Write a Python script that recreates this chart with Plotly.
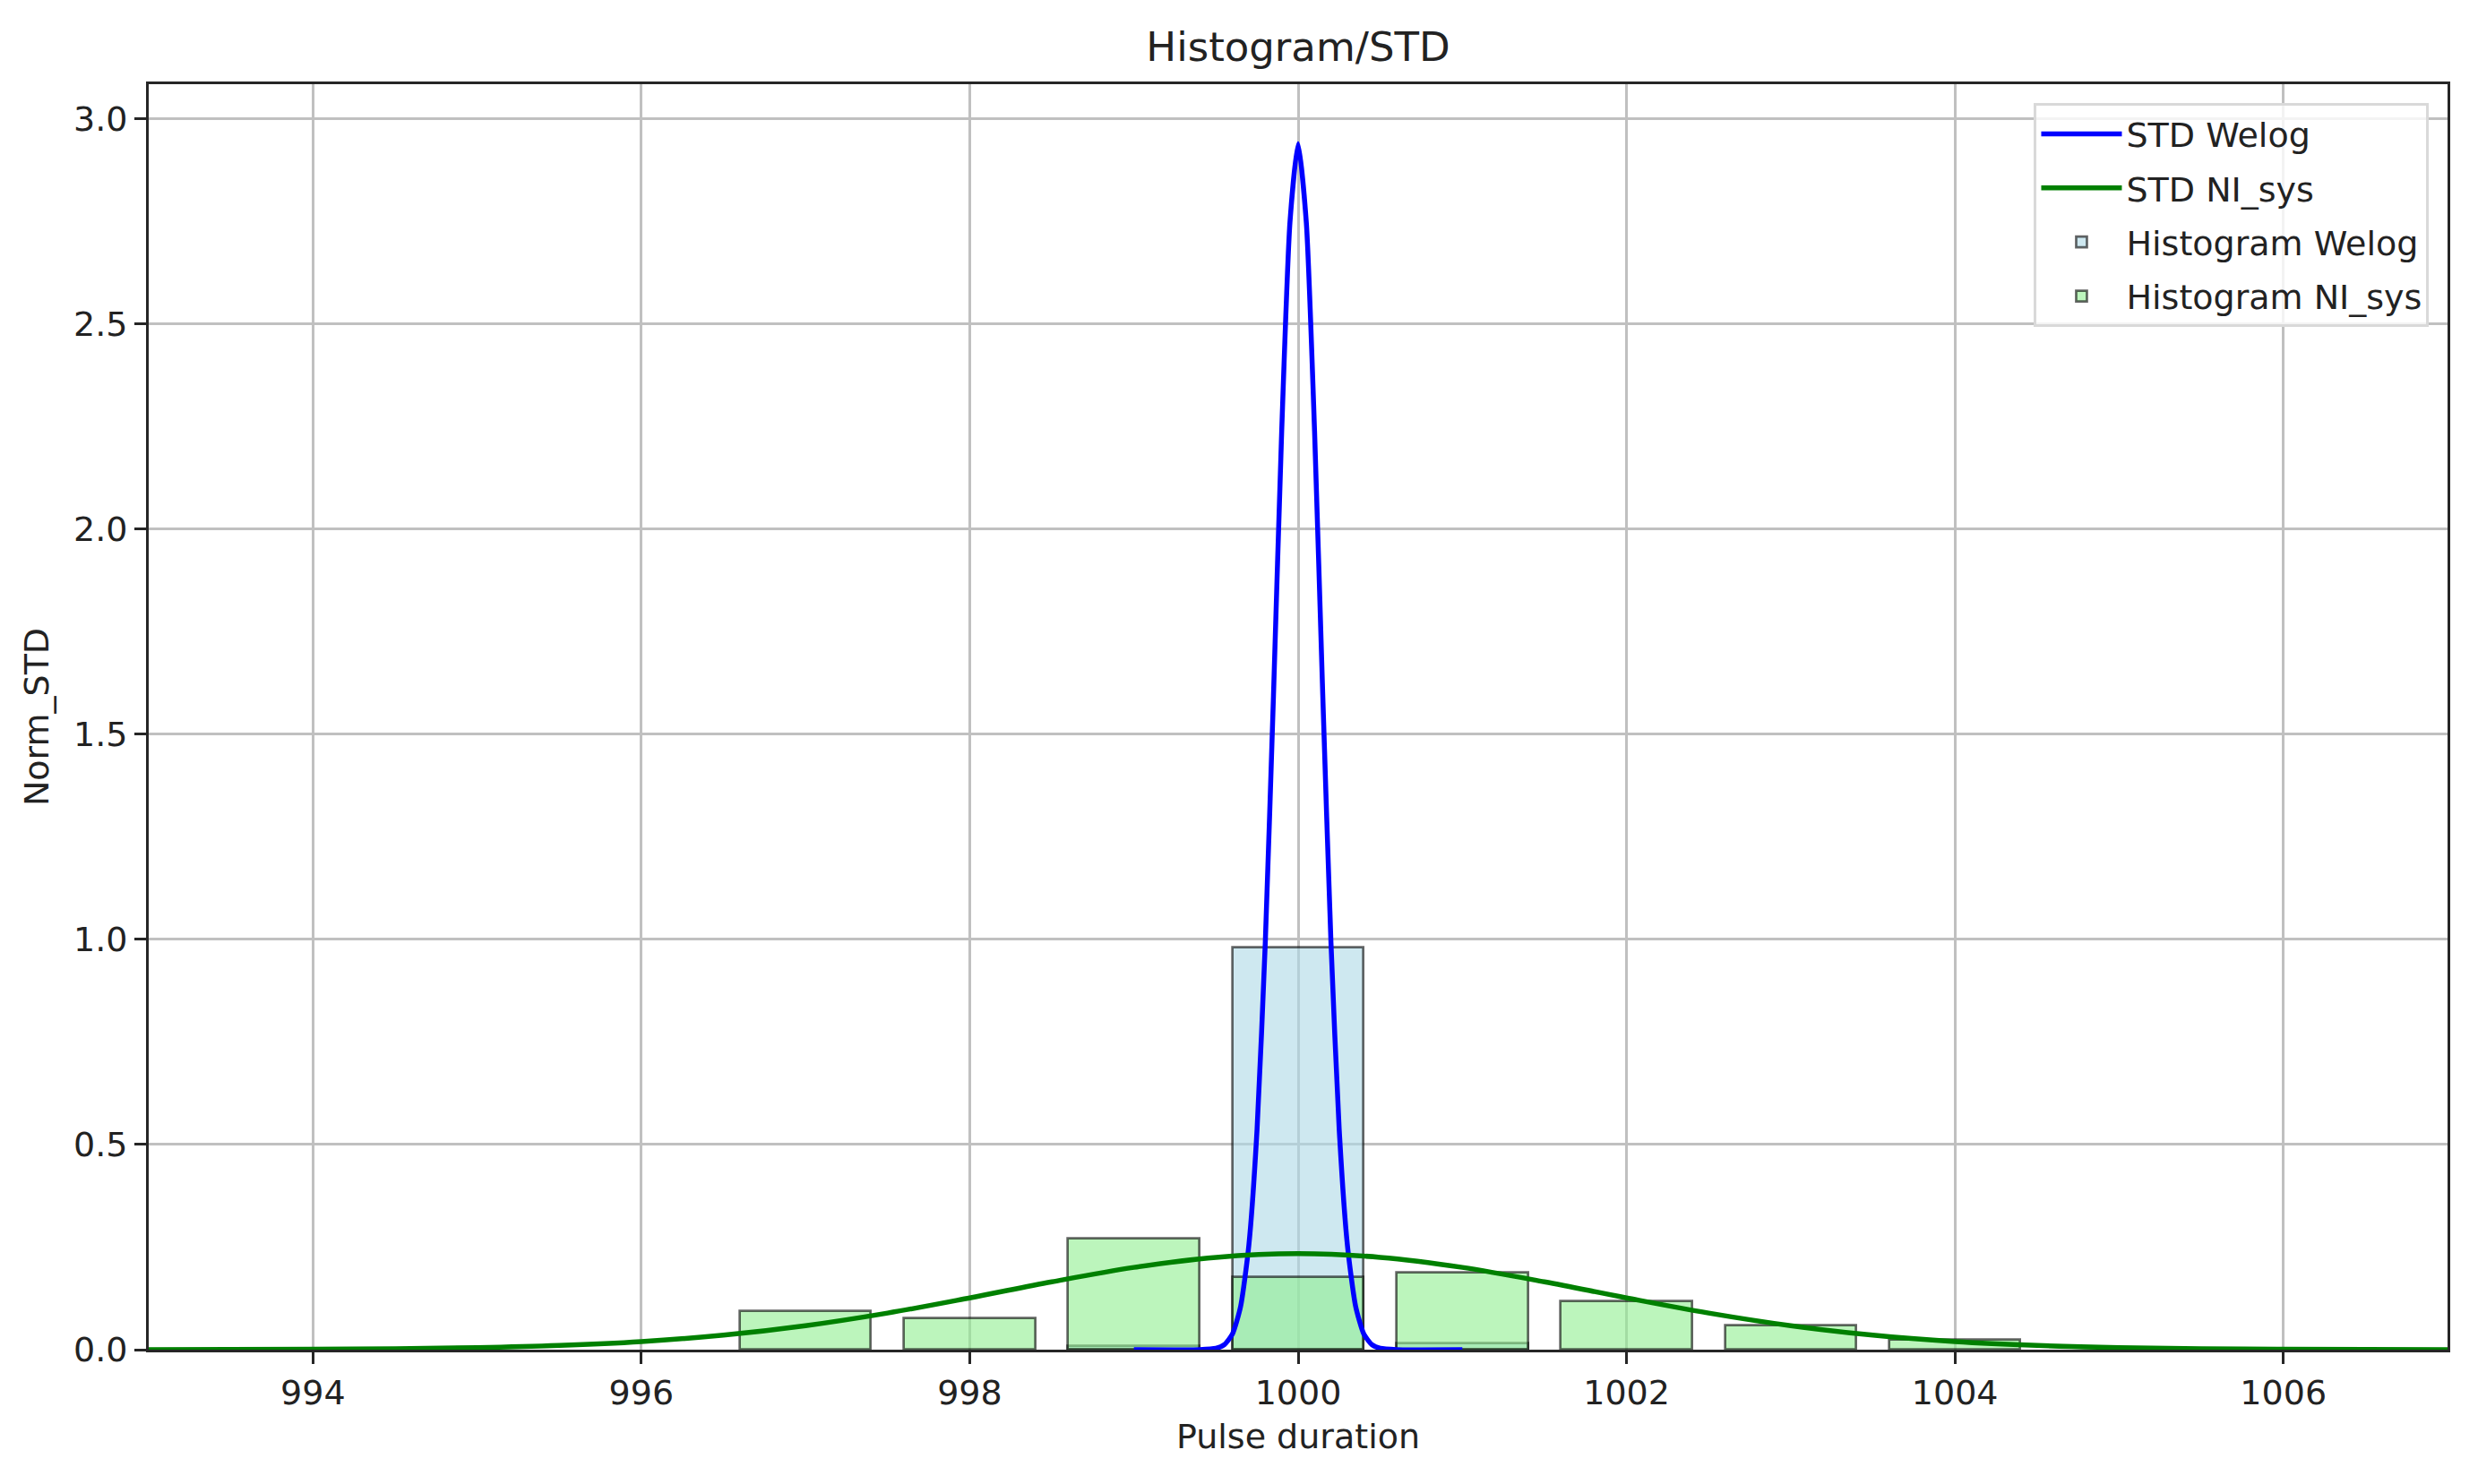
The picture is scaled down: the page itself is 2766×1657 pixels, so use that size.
import plotly.graph_objects as go

# histogram bins (centres) and normalised heights
welog_bins = [999, 1000, 1001]
welog_hist = [0.009, 0.98, 0.016]
ni_bins = [997, 998, 999, 1000, 1001, 1002, 1003, 1004]
ni_hist = [0.093, 0.076, 0.270, 0.177, 0.187, 0.117, 0.058, 0.023]

# STD curves
welog_x = [999.0, 999.4, 999.5, 999.55, 999.6, 999.65, 999.7, 999.75, 999.8, 999.85,
           999.9, 999.95, 1000.0, 1000.05, 1000.1, 1000.15, 1000.2, 1000.25, 1000.3,
           1000.35, 1000.4, 1000.45, 1000.5, 1000.6, 1001.0]
welog_y = [0.0, 0.0002, 0.0033, 0.012, 0.038, 0.106, 0.255, 0.538, 0.992, 1.596,
           2.240, 2.747, 2.94, 2.747, 2.240, 1.596, 0.992, 0.538, 0.255,
           0.106, 0.038, 0.012, 0.0033, 0.0002, 0.0]

ni_x = [993, 993.5, 994, 994.5, 995, 995.5, 996, 996.5, 997, 997.5, 998, 998.5, 999,
        999.5, 1000, 1000.5, 1001, 1001.5, 1002, 1002.5, 1003, 1003.5, 1004, 1004.5,
        1005, 1005.5, 1006, 1006.5, 1007]
ni_y = [0.0001, 0.0003, 0.0009, 0.0022, 0.0049, 0.0103, 0.0198, 0.0353, 0.0584, 0.0892,
        0.1262, 0.1654, 0.2006, 0.2251, 0.234, 0.2251, 0.2006, 0.1654, 0.1262, 0.0892,
        0.0584, 0.0353, 0.0198, 0.0103, 0.0049, 0.0022, 0.0009, 0.0003, 0.0001]

x_ticks = [994, 996, 998, 1000, 1002, 1004, 1006]
y_ticks = [0.0, 0.5, 1.0, 1.5, 2.0, 2.5, 3.0]

FONT = "DejaVu Sans"
edge = "rgba(0,0,0,0.6)"

fig = go.Figure()

fig.add_trace(go.Bar(x=welog_bins, y=welog_hist, width=0.8, name="Histogram Welog",
                     marker=dict(color="rgba(173,216,230,0.6)", line=dict(color=edge, width=2.7)),
                     legendrank=3, legendgroup="c"))
fig.add_trace(go.Bar(x=ni_bins, y=ni_hist, width=0.8, name="Histogram NI_sys",
                     marker=dict(color="rgba(144,238,144,0.6)", line=dict(color=edge, width=2.7)),
                     legendrank=4, legendgroup="d"))
fig.add_trace(go.Scatter(x=welog_x, y=welog_y, mode="lines", name="STD Welog",
                         line=dict(color="blue", width=5.5, shape="spline", smoothing=0.6),
                         legendrank=1, legendgroup="a"))
fig.add_trace(go.Scatter(x=ni_x, y=ni_y, mode="lines", name="STD NI_sys",
                         line=dict(color="green", width=5.5, shape="spline"),
                         legendrank=2, legendgroup="b"))

axis_common = dict(
    showline=True, linecolor="#262626", linewidth=2.7, mirror=True,
    ticks="outside", ticklen=13, tickwidth=2.5, tickcolor="#262626",
    showgrid=True, gridcolor="#c0c0c0", gridwidth=3, zeroline=False,
    tickfont=dict(family=FONT, size=38, color="#222222"),
)

fig.update_xaxes(range=[993, 1007], tickvals=x_ticks,
                 title=dict(text="Pulse duration", font=dict(family=FONT, size=38, color="#222222"), standoff=14),
                 **axis_common)
fig.update_yaxes(range=[0, 3.085], tickvals=y_ticks, tickformat=".1f",
                 title=dict(text="Norm_STD", font=dict(family=FONT, size=38, color="#222222"), standoff=16),
                 **axis_common)

fig.update_layout(
    width=2766, height=1657,
    margin=dict(l=166, r=34, t=94, b=150),
    paper_bgcolor="white", plot_bgcolor="white",
    barmode="overlay", bargap=0,
    title=dict(text="Histogram/STD", x=0.5, xanchor="center", xref="paper",
               y=1 - 52 / 1657, yanchor="middle",
               font=dict(family=FONT, size=45, color="#222222")),
    legend=dict(x=0.992, xanchor="right", y=0.985, yanchor="top",
                bgcolor="rgba(255,255,255,0.8)", bordercolor="#d9d9d9", borderwidth=3,
                font=dict(family=FONT, size=38, color="#222222"),
                tracegroupgap=8, itemwidth=90),
    showlegend=True,
)

fig.write_html("out.html", config={"displayModeBar": False},
               post_script="document.body.style.margin='0';")
